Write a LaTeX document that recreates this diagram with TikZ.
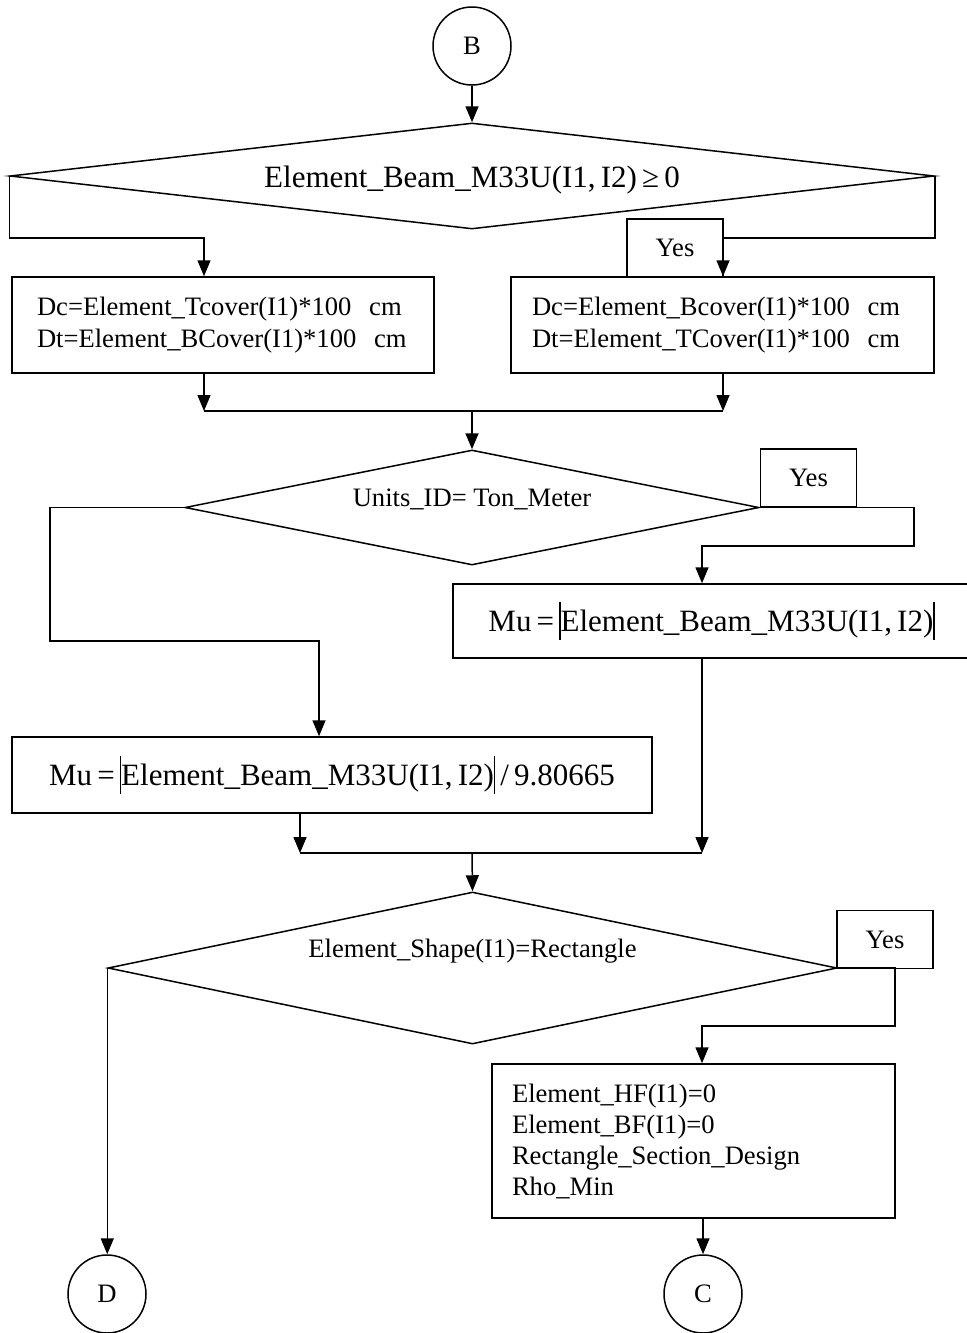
\documentclass[tikz,border=0pt]{standalone}
\usepackage{fontspec}
\setmainfont{Liberation Serif}
\usetikzlibrary{shapes.geometric, arrows.meta}
\newcommand{\absbar}{\rule[-0.27em]{0.6pt}{1.22em}}

\begin{document}
\begin{tikzpicture}[
  x=0.5pt, y=-0.5pt,
  every node/.style={font=\fontsize{13.3}{16}\selectfont},
  >={Triangle[length=8pt, width=6.5pt]},
  line width=0.75pt,
  decision/.style={draw, diamond, inner sep=0pt},
  box/.style={draw, rectangle, inner sep=0pt},
  yesbox/.style={draw, rectangle, minimum width=48pt, minimum height=29pt, inner sep=0pt},
  conn/.style={draw, circle, minimum size=39pt, inner sep=0pt},
  bigtext/.style={font=\fontsize{15.5}{18}\selectfont},
  arrow/.style={->}
]
\useasboundingbox (0,0) rectangle (966,1333);

% Connector in
\node[conn] (conB) at (472,46) {B};

% Sign of moment
\node[decision, minimum width=462pt, minimum height=53pt,
  label={[bigtext, yshift=-2pt]center:Element\_Beam\_M33U(I1,\,I2)\,≥\,0}] (dec1) at (472,176) {};
\node[box, minimum width=211pt, minimum height=48pt, align=left,
  inner xsep=12.5pt, text width=186pt] (box1) at (223,325)
  {Dc=Element\_Tcover(I1)*100\ \ cm\\Dt=Element\_BCover(I1)*100\ \ cm};
\node[box, minimum width=211.5pt, minimum height=48pt, align=left,
  inner xsep=10.5pt, text width=190.5pt] (box2) at (722.5,325)
  {Dc=Element\_Bcover(I1)*100\ \ cm\\Dt=Element\_TCover(I1)*100\ \ cm};
\node[yesbox] (yes1) at (675,248) {Yes};

% Units
\node[decision, minimum width=287pt, minimum height=57.5pt,
  label={[yshift=4pt]center:Units\_ID= Ton\_Meter}] (dec2) at (472,507.5) {};
\node[yesbox] (yes2) at (808.5,478) {Yes};
\node[box, bigtext, minimum width=258.5pt, minimum height=37pt] (box3) at (711.5,621)
  {Mu\,=\,\absbar Element\_Beam\_M33U(I1,\,I2)\absbar};
\node[box, bigtext, minimum width=320pt, minimum height=38pt] (box4) at (332,775)
  {Mu\,=\,\absbar Element\_Beam\_M33U(I1,\,I2)\absbar\,/\,9.80665};

% Section shape
\node[decision, minimum width=364.5pt, minimum height=76pt,
  label={[yshift=8.5pt]center:Element\_Shape(I1)=Rectangle}] (dec3) at (472.5,968) {};
\node[yesbox] (yes3) at (885,939.5) {Yes};
\node[box, minimum width=201.5pt, minimum height=77pt, align=left,
  inner xsep=10pt, text width=181.5pt, font=\fontsize{13.3}{15.5}\selectfont] (box5) at (693.5,1141)
  {Element\_HF(I1)=0\\Element\_BF(I1)=0\\Rectangle\_Section\_Design\\Rho\_Min};

% Connectors out
\node[conn] (conD) at (107,1294) {D};
\node[conn] (conC) at (703,1294) {C};

% Junctions
\coordinate (j1) at (204,238);
\coordinate (j2) at (723,238);
\coordinate (m1) at (472,411);
\coordinate (j3) at (914,546);
\coordinate (j4) at (702,546);
\coordinate (j5) at (50,641);
\coordinate (j6) at (319,641);
\coordinate (j7) at (300,853);
\coordinate (m2) at (472,853);
\coordinate (j8) at (895,1026);
\coordinate (j9) at (702,1026);

% Arrows
\draw[arrow] (conB) -- (dec1.north);
\draw[arrow] (dec1.west) |- (j1) -- (j1 |- box1.north);
\draw[arrow] (dec1.east) |- (j2) -- (j2 |- box2.north);
\draw[arrow] (j1 |- box1.south) -- (j1 |- m1);
\draw[arrow] (j2 |- box2.south) -- (j2 |- m1);
\draw (j1 |- m1) -- (j2 |- m1);
\draw[arrow] (m1) -- (dec2.north);
\draw[arrow] (dec2.east) -| (j3) -- (j4) -- (j4 |- box3.north);
\draw[arrow] (dec2.west) -| (j5) -- (j6) -- (j6 |- box4.north);
\draw[arrow] (j4 |- box3.south) -- (j4 |- m2);
\draw[arrow] (j7 |- box4.south) -- (j7);
\draw (j7) -- (j4 |- m2);
\draw[arrow] (m2) -- (dec3.north);
\draw[arrow] (dec3.east) -| (j8) -- (j9) -- (j9 |- box5.north);
\draw[arrow] (dec3.west) -- (dec3.west |- conD.north);
\draw[arrow] (conC.north |- box5.south) -- (conC.north);

\end{tikzpicture}
\end{document}
